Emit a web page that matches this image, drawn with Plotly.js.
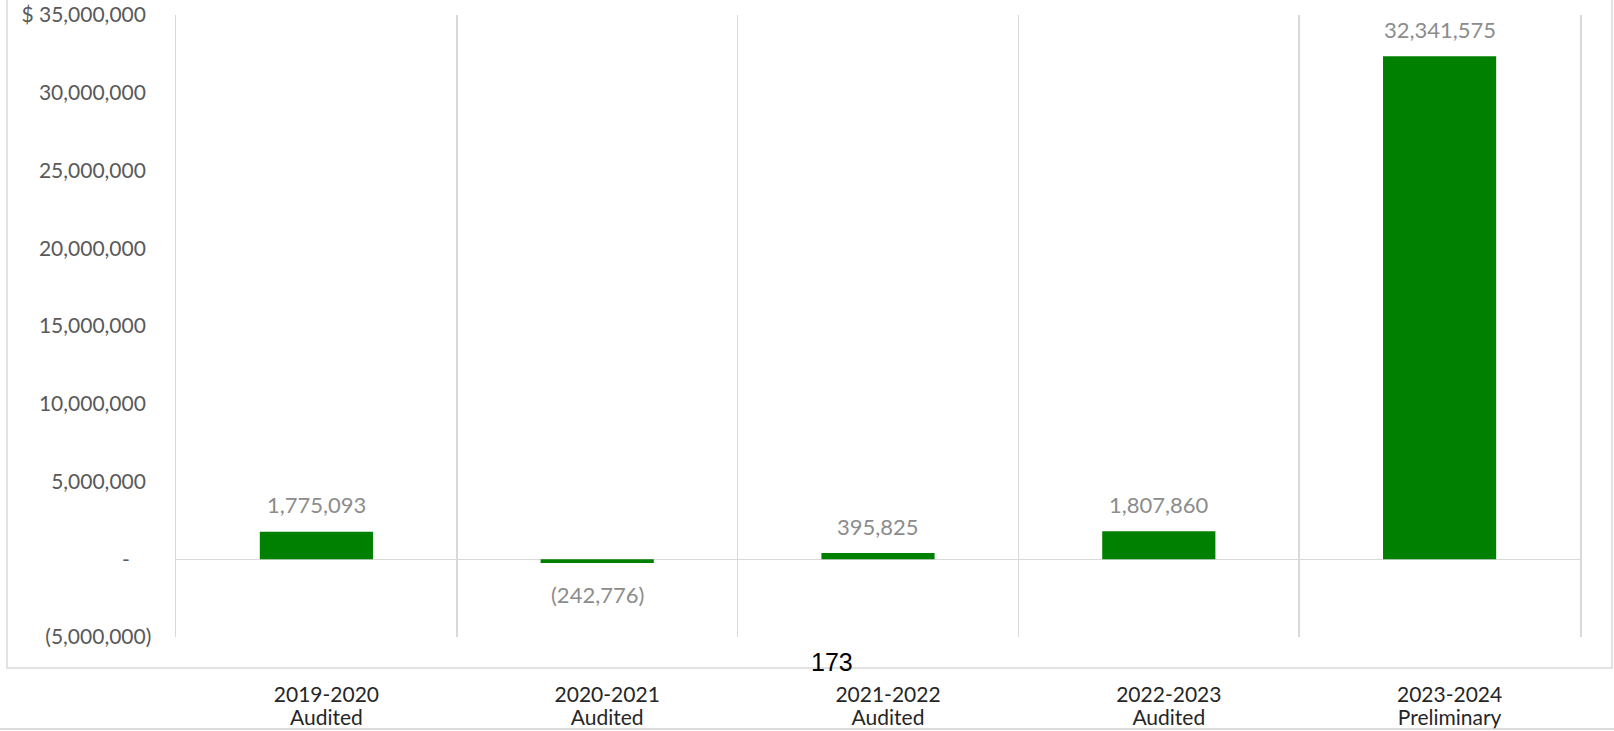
<!DOCTYPE html>
<html>
<head>
<meta charset="utf-8">
<script src="https://cdn.plot.ly/plotly-3.0.1.min.js"></script>
<style>
  html, body { margin: 0; padding: 0; background: #ffffff; }
  #chart { width: 1614px; height: 731px; }
</style>
</head>
<body>
<div id="chart"></div>
<script>
// ---- data ----
const periods = ["2019-2020", "2020-2021", "2021-2022", "2022-2023", "2023-2024"];
const statuses = ["Audited", "Audited", "Audited", "Audited", "Preliminary"];
const values = [1775093, -242776, 395825, 1807860, 32341575];
const yTickVals = [-5000000, 0, 5000000, 10000000, 15000000, 20000000, 25000000, 30000000, 35000000];
const yTickText = ["(5,000,000)", "-\u00a0\u00a0\u00a0\u00a0", "5,000,000\u00a0", "10,000,000\u00a0", "15,000,000\u00a0", "20,000,000\u00a0", "25,000,000\u00a0", "30,000,000\u00a0", "$\u00a035,000,000\u00a0"];
const pageNumber = "173";

const categories = periods.map((p, i) => p + "<br>" + statuses[i]);
const categoryText = periods.map((p, i) =>
  '<span style="font-size:21px">' + p + '</span><br><span style="font-size:21px">' + statuses[i] + '</span>');

function fmt(v) {
  const s = Math.abs(v).toLocaleString("en-US");
  return v < 0 ? "(" + s + ")" : s;
}

const FONT = "Lato, 'Open Sans', sans-serif";

const trace = {
  type: "bar",
  x: categories,
  y: values,
  marker: { color: "#008000", line: { width: 0 } },
  hoverinfo: "skip"
};

const annotations = categories.map((c, i) => ({
  x: c,
  y: values[i],
  xref: "x",
  yref: "y",
  text: fmt(values[i]),
  showarrow: false,
  yanchor: "middle",
  yshift: values[i] < 0 ? -31 : 27,
  font: { family: FONT, size: 22, color: "#8c8c8c" }
}));

annotations.push({
  x: 0.467, y: -0.040, xref: "paper", yref: "paper",
  text: pageNumber, showarrow: false,
  xanchor: "center", yanchor: "middle",
  font: { family: "'Liberation Sans', Arial, sans-serif", size: 25, color: "#000000" }
});

const layout = {
  width: 1614,
  height: 731,
  margin: { l: 176, r: 34, t: 15, b: 94 },
  paper_bgcolor: "#ffffff",
  plot_bgcolor: "#ffffff",
  showlegend: false,
  bargap: 0.597,
  xaxis: {
    type: "category",
    range: [-0.5, 4.5],
    tickson: "boundaries",
    showgrid: true,
    gridcolor: "#d9d9d9",
    gridwidth: 1.5,
    ticks: "",
    showline: false,
    zeroline: false,
    tickmode: "array",
    tickvals: categories,
    ticktext: categoryText,
    ticklabelstandoff: 46,
    ticklabelshift: 10,
    tickfont: { family: FONT, size: 18, color: "#262626" },
    fixedrange: true
  },
  yaxis: {
    range: [-5000000, 35000000],
    tickvals: yTickVals,
    ticktext: yTickText,
    showgrid: false,
    zeroline: true,
    zerolinecolor: "#d9d9d9",
    zerolinewidth: 1.5,
    showline: true,
    mirror: true,
    linecolor: "#d9d9d9",
    linewidth: 1.5,
    ticks: "",
    ticklabelstandoff: 19,
    tickfont: { family: FONT, size: 21, color: "#595959" },
    fixedrange: true
  },
  shapes: [
    {
      type: "rect", xref: "paper", yref: "paper",
      x0: -0.1204, x1: 1.0228, y0: -0.0498, y1: 1.06,
      line: { color: "#d9d9d9", width: 1.5 }, fillcolor: "rgba(0,0,0,0)", layer: "below"
    },
    {
      type: "line", xref: "paper", yref: "paper",
      x0: -0.2, x1: 1.1, y0: -0.148, y1: -0.148,
      line: { color: "#d0d0d0", width: 1.5 }
    }
  ],
  annotations: annotations
};

Plotly.newPlot("chart", [trace], layout, { displayModeBar: false, staticPlot: true });
</script>
</body>
</html>
